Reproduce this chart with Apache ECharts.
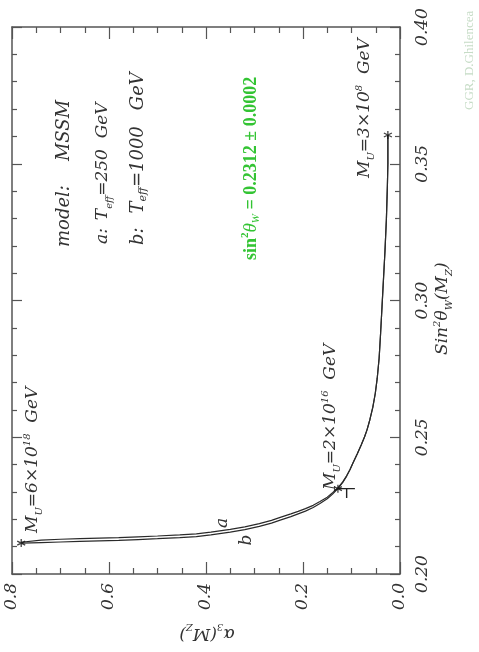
<!DOCTYPE html>
<html>
<head>
<meta charset="utf-8">
<script src="https://cdn.jsdelivr.net/npm/echarts@6/dist/echarts.min.js"></script>
<style>html,body{margin:0;padding:0;background:#fff}#c{width:479px;height:652px}</style>
</head>
<body>
<div id="c"></div>
<script>
// alpha_3(M_Z) values along the curves
const alphaVals = [0.781, 0.74, 0.70, 0.66, 0.62, 0.58, 0.54, 0.50, 0.454, 0.42, 0.39, 0.35, 0.32, 0.29, 0.265, 0.247, 0.225, 0.21, 0.195, 0.179, 0.165, 0.15, 0.139, 0.128, 0.118, 0.11, 0.103, 0.097, 0.088, 0.08, 0.073, 0.068, 0.062, 0.056, 0.051, 0.047, 0.043, 0.040, 0.037, 0.034, 0.031, 0.028, 0.026, 0.025, 0.025];
// sin^2 theta_W(M_Z), curve a (T_eff = 250 GeV)
const sinA = [0.2116, 0.2124, 0.2127, 0.2129, 0.2131, 0.2133, 0.2136, 0.2139, 0.2143, 0.2147, 0.2153, 0.2163, 0.2172, 0.2184, 0.2196, 0.2207, 0.2220, 0.2229, 0.2239, 0.2251, 0.2265, 0.2281, 0.2297, 0.2315, 0.2337, 0.2359, 0.2382, 0.2406, 0.2440, 0.2472, 0.2502, 0.2527, 0.2565, 0.2610, 0.2660, 0.2715, 0.2790, 0.2880, 0.2980, 0.3080, 0.3180, 0.3300, 0.3420, 0.3500, 0.3605];
// curve b (T_eff = 1000 GeV)
const sinB = [0.2113, 0.2115, 0.2117, 0.2119, 0.2121, 0.2123, 0.2126, 0.2129, 0.2133, 0.2137, 0.2143, 0.2153, 0.2162, 0.2174, 0.2186, 0.2197, 0.2210, 0.2220, 0.2230, 0.2243, 0.2258, 0.2275, 0.2292, 0.2312, 0.2335, 0.2358, 0.2382, 0.2406, 0.2440, 0.2472, 0.2502, 0.2527, 0.2565, 0.2610, 0.2660, 0.2715, 0.2790, 0.2880, 0.2980, 0.3080, 0.3180, 0.3300, 0.3420, 0.3500, 0.3605];
// marked unification-scale points
const starAlpha = [0.781, 0.128, 0.025];
const starSin = [0.2113, 0.2312, 0.3605];
// measured sin^2 (horizontal bar) and small tick
const barAlpha = [0.128, 0.093];
const barSin = [0.2312, 0.2312];
const tickAlpha = [0.11, 0.11];
const tickSin = [0.2312, 0.2278];
// axis ticks
const alphaMin = 0, alphaMax = 0.8, alphaStep = 0.2;
const sinMin = 0.20, sinMax = 0.40, sinStep = 0.05;

const zip = (a, b) => a.map((v, i) => [v, b[i]]);
const ink = '#333';
const green = '#33c433';
const serif = '"DejaVu Serif", "Liberation Serif", serif';
const lserif = '"Liberation Serif", serif';

const chart = echarts.init(document.getElementById('c'), null, {renderer: 'canvas'});

const xCommon = {
  type: 'value', min: alphaMin, max: alphaMax, interval: alphaStep, inverse: true,
  axisLine: {show: true, onZero: false, lineStyle: {color: '#555', width: 1.5}},
  axisTick: {show: true, inside: true, length: 12, lineStyle: {color: '#555', width: 1.2}},
  minorTick: {show: true, splitNumber: 4, length: 6, lineStyle: {color: '#555', width: 1.2}},
  splitLine: {show: false}
};
const yCommon = {
  type: 'value', min: sinMin, max: sinMax, interval: sinStep,
  axisLine: {show: true, onZero: false, lineStyle: {color: '#555', width: 1.5}},
  axisTick: {show: true, inside: true, length: 10, lineStyle: {color: '#555', width: 1.2}},
  minorTick: {show: true, splitNumber: 5, length: 5, lineStyle: {color: '#555', width: 1.2}},
  splitLine: {show: false}
};

function vtext(x, y, text, opts) {
  opts = opts || {};
  return {
    type: 'text', x: x, y: y, rotation: opts.rot !== undefined ? opts.rot : Math.PI / 2,
    style: {
      text: text,
      font: (opts.italic === false ? 'normal' : 'italic') + ' ' + (opts.weight || 'normal') + ' ' + (opts.size || 17) + 'px ' + (opts.family || serif),
      fill: opts.color || ink,
      align: opts.align || 'left',
      verticalAlign: 'middle',
      rich: opts.rich
    },
    z: 100
  };
}
function tok(size, va, extra) {
  return Object.assign({fontFamily: serif, fontStyle: 'italic', fontSize: size, fill: ink, lineHeight: 22, verticalAlign: va}, extra || {});
}
const richMU = {
  n: tok(17, 'middle'),
  sub: tok(10, 'bottom'),
  sup: tok(10, 'top'),
  g1: tok(17, 'middle', {width: 8}),
  g2: tok(17, 'middle', {width: 14})
};
const richB = {
  n: tok(18, 'middle'),
  sub: tok(11, 'bottom'),
  g2: tok(18, 'middle', {width: 14}),
  g3: tok(18, 'middle', {width: 16})
};
const richG = {
  n: {fontFamily: lserif, fontWeight: 'bold', fontSize: 18, fill: green, lineHeight: 22, verticalAlign: 'middle'},
  sub: {fontFamily: lserif, fontStyle: 'italic', fontSize: 11, fill: green, lineHeight: 22, verticalAlign: 'bottom'},
  sup: {fontFamily: lserif, fontWeight: 'bold', fontSize: 11, fill: green, lineHeight: 22, verticalAlign: 'top'},
  th: {fontFamily: lserif, fontStyle: 'italic', fontSize: 19, fill: green, lineHeight: 22, verticalAlign: 'middle'}
};
const richModel = {
  n: tok(18, 'middle'),
  g: tok(18, 'middle', {width: 24})
};

const option = {
  animation: false,
  backgroundColor: '#fff',
  grid: {left: 12, right: 79, top: 27, bottom: 78, containLabel: false},
  xAxis: [
    Object.assign({}, xCommon, {
      position: 'bottom',
      axisLabel: {show: true, rotate: 90, margin: 9, fontFamily: serif, fontStyle: 'italic', fontSize: 17, color: ink,
        formatter: v => v.toFixed(1)}
    }),
    Object.assign({}, xCommon, {position: 'top', axisLabel: {show: false}})
  ],
  yAxis: [
    Object.assign({}, yCommon, {
      position: 'right',
      axisLabel: {show: true, rotate: 90, margin: 14, fontFamily: serif, fontStyle: 'italic', fontSize: 17, color: ink,
        formatter: v => v.toFixed(2)}
    }),
    Object.assign({}, yCommon, {position: 'left', axisLabel: {show: false}})
  ],
  series: [
    {type: 'line', name: 'a', data: zip(alphaVals, sinA), showSymbol: false, smooth: false,
      lineStyle: {color: '#2a2a2a', width: 1.2}, z: 3},
    {type: 'line', name: 'b', data: zip(alphaVals, sinB), showSymbol: false, smooth: false,
      lineStyle: {color: '#2a2a2a', width: 1.2}, z: 3},
    {type: 'line', data: zip(barAlpha, barSin), showSymbol: false, lineStyle: {color: '#222', width: 1.4}, z: 4},
    {type: 'line', data: zip(tickAlpha, tickSin), showSymbol: false, lineStyle: {color: '#222', width: 1.4}, z: 4},
    {type: 'scatter', data: zip(starAlpha, starSin), symbol: 'path://M5 0L5 10M0.7 2.5L9.3 7.5M0.7 7.5L9.3 2.5', symbolSize: 8,
      itemStyle: {color: 'rgba(0,0,0,0)', borderColor: '#111', borderWidth: 1.3}, z: 5}
  ],
  graphic: [
    vtext(64, 247, '{n|model:}{g|}{n|MSSM}', {rich: richModel}),
    vtext(103, 244, '{n|a:}{g1|}{n|T}{sub|eff}{n|=250  GeV}', {rich: richMU}),
    vtext(138, 245, '{n|b:}{g2|}{n|T}{sub|eff}{n|=1000}{g3|}{n|GeV}', {rich: richB}),
    vtext(33, 533, '{n|M}{sub|U}{n|=6×10}{sup|18}{n|  GeV}', {rich: richMU}),
    vtext(331, 490, '{n|M}{sub|U}{n|=2×10}{sup|16}{n|  GeV}', {rich: richMU}),
    vtext(365, 178, '{n|M}{sub|U}{n|=3×10}{sup|8}{n|  GeV}', {rich: richMU}),
    vtext(251, 260, '{n|sin}{sup|2}{th|θ}{sub|W}{n| = 0.2312 ± 0.0002}', {rich: richG}),
    vtext(223, 523, 'a', {align: 'center', size: 17}),
    vtext(247, 540, 'b', {align: 'center', size: 17}),
    vtext(443, 355, '{n|Sin}{sup|2}{n|θ}{sub|W}{n|(M}{sub|Z}{n|)}', {rich: richMU}),
    vtext(207, 633, '{n|α}{sub|3}{n|(M}{sub|Z}{n|)}', {rich: richMU, rot: Math.PI, align: 'center'}),
    vtext(470, 110, 'GGR, D.Ghilencea', {italic: false, size: 13, family: lserif, color: '#c6dcc6'})
  ]
};
chart.setOption(option);
</script>
</body>
</html>
